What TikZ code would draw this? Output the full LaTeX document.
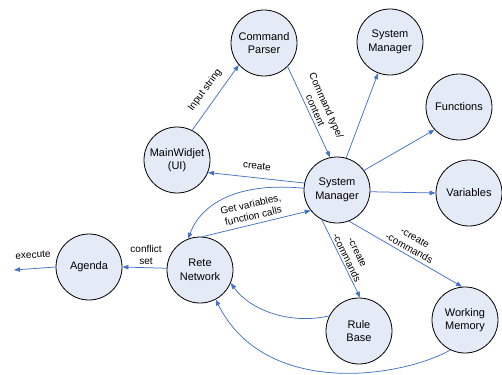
\documentclass[tikz,border=0pt]{standalone}
\usepackage{fontspec}
\setmainfont{Liberation Sans}
\usetikzlibrary{arrows.meta}
\definecolor{nodefill}{RGB}{228,234,246}
\definecolor{edgeblue}{RGB}{68,114,196}
\begin{document}
\begin{tikzpicture}[x=1pt,y=-1pt,
  state/.style={circle,draw=black,line width=0.8pt,fill=nodefill,minimum size=66pt,inner sep=0pt,align=center,font=\fontsize{11}{13.5}\selectfont},
  edge/.style={draw=edgeblue,line width=0.75pt,-{Triangle[length=6pt,width=4.5pt]}},
  lbl/.style={font=\fontsize{10}{12}\selectfont,align=center,inner sep=0pt}]
\useasboundingbox (0,0) rectangle (502,374);
% nodes
\node[state] (CP) at (264,43) {Command\\Parser};
\node[state] (SMt) at (390,42) {System\\Manager};
\node[state] (Fn) at (459,107) {Functions};
\node[state] (Var) at (469,193) {Variables};
\node[state] (SM) at (337,190) {System\\Manager};
\node[state] (MW) at (177,160) {MainWidjet\\(UI)};
\node[state] (Ag) at (89,267) {Agenda};
\node[state] (RN) at (200,270) {Rete\\Network};
\node[state] (RB) at (359,331) {Rule\\Base};
\node[state] (WM) at (465,320) {Working\\Memory};
\coordinate (ex) at (14,270);
% connectors
\draw[edge] (MW.63) -- (CP.221);
\draw[edge] (CP.-45) -- (SM.102);
\draw[edge] (SM.74) -- (SMt.249);
\draw[edge] (SM.36) -- (Fn.223);
\draw[edge] (SM.-3) -- (Var.180);
\draw[edge] (SM.168) -- (MW.-22);
\draw[edge] (SM.177) .. controls (240,182) and (202,202) .. (RN.111);
\draw[edge] (RN.86) -- (SM.218);
\draw[edge] (SM.243) -- (RB.88);
\draw[edge] (SM.291) -- (WM.95);
\draw[edge] (RN.177) -- (Ag.0);
\draw[edge] (Ag.180) -- (ex);
\draw[edge] (RB.153) .. controls (290,325) and (250,310) .. (RN.-23);
\draw[edge] (WM.244) .. controls (400,378) and (265,398) .. (RN.-62);
% labels
\node[lbl,rotate=54] (lInput) at (205,90) {Input string};
\node[lbl,rotate=-66] (lCmd) at (321,108) {Command type/\\content};
\node[lbl,rotate=-6] (lCreate) at (257,166) {create};
\node[lbl,rotate=13] (lGet) at (252,210) {Get variables,\\function calls};
\node[lbl,rotate=-64] (lRB) at (352,255) {-create\\-commands};
\node[lbl,rotate=-29] (lWM) at (412,243) {-create\\-commands};
\node[lbl] (lConf) at (146,255) {conflict\\set};
\node[lbl,rotate=3] (lExec) at (33,255) {execute};
\end{tikzpicture}
\end{document}
